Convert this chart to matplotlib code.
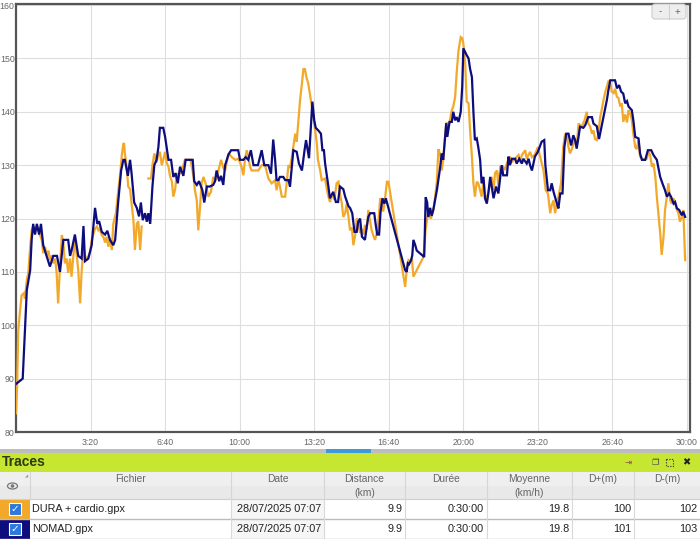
import numpy as np
import matplotlib
matplotlib.use("Agg")
import matplotlib.pyplot as plt
from matplotlib.patches import Rectangle, FancyBboxPatch, Ellipse, Circle

# ---------------- data ----------------
nomad_t = [0, 18, 24, 29, 38, 42, 46, 51, 56, 62, 67, 73, 82, 91, 100, 110, 118, 127, 140, 145, 149, 158, 167, 176, 181, 185, 194, 203, 212, 218, 223, 230, 239, 245, 252, 261, 266, 274, 282, 288, 292, 300, 306, 310, 317, 324, 330, 335, 340, 346, 351, 355, 360, 366, 371, 377, 382, 386, 395, 400, 404, 409, 416, 422, 428, 434, 440, 449, 455, 467, 474, 478, 485, 491, 500, 505, 512, 520, 529, 534, 538, 545, 550, 556, 561, 570, 577, 583, 596, 601, 610, 616, 623, 630, 637, 649, 659, 666, 677, 684, 690, 695, 699, 704, 708, 717, 722, 731, 735, 740, 744, 753, 759, 767, 774, 778, 786, 791, 795, 800, 804, 811, 818, 822, 826, 829, 838, 842, 851, 858, 864, 869, 878, 883, 892, 896, 902, 908, 914, 918, 923, 928, 932, 936, 941, 945, 950, 961, 965, 969, 974, 978, 983, 988, 992, 1044, 1048, 1051, 1054, 1060, 1063, 1066, 1071, 1075, 1095, 1099, 1103, 1106, 1111, 1115, 1119, 1129, 1138, 1142, 1146, 1154, 1157, 1163, 1169, 1173, 1178, 1182, 1187, 1193, 1197, 1200, 1205, 1209, 1214, 1218, 1223, 1227, 1231, 1236, 1240, 1245, 1249, 1254, 1258, 1263, 1267, 1272, 1276, 1281, 1288, 1294, 1299, 1303, 1307, 1317, 1321, 1325, 1330, 1339, 1343, 1350, 1357, 1361, 1370, 1375, 1379, 1384, 1392, 1400, 1410, 1417, 1420, 1427, 1433, 1437, 1442, 1446, 1451, 1455, 1460, 1466, 1471, 1476, 1482, 1489, 1495, 1500, 1504, 1509, 1513, 1522, 1527, 1535, 1545, 1549, 1558, 1564, 1570, 1576, 1580, 1585, 1589, 1594, 1607, 1612, 1618, 1623, 1629, 1634, 1639, 1643, 1652, 1656, 1661, 1670, 1674, 1679, 1688, 1695, 1704, 1710, 1719, 1728, 1734, 1741, 1746, 1752, 1757, 1764, 1768, 1773, 1779, 1786, 1790, 1795]
nomad_hr = [89, 90, 99, 106.6, 110.3, 116, 119, 117, 119, 117, 119, 115, 113, 111, 113, 113, 110, 116, 116, 113, 114, 117, 113, 112.5, 118.6, 112, 112.5, 115, 122, 119, 119.5, 117.5, 117, 117.7, 116, 115, 116, 123, 129, 131, 131, 128, 131, 128.5, 123, 122, 120.4, 123, 119.7, 121, 119.4, 121, 119, 126, 130, 131, 133.4, 137, 137, 135.3, 133.4, 131, 131, 127.8, 128.5, 126.6, 129.7, 128, 131, 131, 131, 127, 126.3, 127, 125.3, 123, 126, 126, 126.3, 127, 129, 127, 128, 126.3, 130, 132, 132.8, 132.8, 132.8, 131, 131, 131.5, 131, 132.8, 130, 130, 132.8, 130, 130, 128.4, 134.8, 131, 127.2, 127.2, 127.8, 127.8, 127.2, 127.2, 126, 129.7, 132.8, 132.5, 130.3, 129, 132.8, 134.7, 131.3, 137, 141.9, 138.4, 137, 136.5, 135.9, 132.8, 132.8, 130.4, 126, 123.8, 125, 123.1, 123.1, 126, 125.5, 124.1, 122.3, 122, 121, 117.5, 117.5, 119.4, 120, 116.6, 116.3, 116, 118.5, 120.3, 121, 121, 118.8, 117, 117, 121.3, 123.8, 122.8, 123.8, 110.3, 110, 111.6, 111.4, 112.2, 113.1, 116, 115, 114, 112.8, 124, 123, 120.3, 122, 120.5, 121.5, 125.3, 129.7, 132.2, 131, 137.8, 135.3, 138.1, 138.1, 140, 138.4, 139, 138.1, 140, 144.7, 151.9, 151.2, 150.6, 150, 148.1, 146.5, 140, 134.7, 135, 133.4, 131, 126.6, 127.8, 123.8, 122.8, 124.7, 127.8, 126, 123.8, 126, 124.7, 127.8, 130, 128.1, 128.1, 131.6, 130, 131.2, 131.2, 130.3, 131.2, 130.3, 131.2, 130.3, 131.2, 130, 129, 131.6, 132.5, 134.4, 134.7, 130, 125.3, 125.3, 126.6, 125, 124, 122.8, 121.9, 124.7, 124.7, 133.4, 135.9, 135.9, 133.7, 135.6, 134.7, 133.1, 135.3, 137.2, 137, 137.5, 139, 139, 137.8, 137.3, 134.9, 137, 139, 140.6, 142.2, 144, 145.9, 145.9, 144.4, 145, 143.8, 143.4, 141.6, 142, 141, 140.3, 138.4, 135.3, 135, 132.2, 131, 131, 132.8, 132.8, 131.9, 131, 127.8, 126.6, 125.3, 124.1, 124.7, 124.1, 122.8, 123.1, 121.9, 121.6, 120.6, 121.3, 120.3]

dura_t = [0, 3, 6, 11, 15, 21, 24, 29, 33, 38, 42, 46, 51, 56, 60, 64, 69, 73, 78, 82, 87, 91, 96, 100, 105, 109, 113, 118, 123, 127, 131, 136, 140, 145, 149, 154, 158, 163, 167, 172, 176, 181, 185, 190, 199, 203, 212, 217, 221, 225, 230, 234, 239, 243, 248, 252, 257, 261, 268, 274, 279, 284, 288, 290, 292, 297, 301, 306, 310, 315, 319, 324, 328, 333, 337, 346, 355, 362, 366, 371, 377, 382, 386, 391, 395, 400, 404, 409, 413, 418, 422, 427, 431, 435, 440, 449, 453, 468, 476, 480, 485, 489, 494, 498, 503, 509, 516, 523, 529, 534, 543, 550, 556, 561, 570, 579, 588, 596, 601, 605, 610, 614, 619, 623, 628, 632, 641, 650, 659, 668, 677, 686, 695, 699, 704, 708, 713, 722, 726, 731, 735, 740, 744, 749, 753, 757, 762, 767, 771, 775, 779, 784, 791, 798, 807, 810, 816, 820, 829, 836, 842, 849, 854, 860, 865, 869, 874, 878, 883, 887, 892, 896, 901, 905, 910, 914, 918, 923, 928, 932, 936, 941, 945, 950, 954, 959, 963, 968, 972, 977, 981, 985, 990, 995, 999, 1044, 1048, 1053, 1057, 1062, 1066, 1093, 1099, 1105, 1113, 1121, 1129, 1133, 1138, 1142, 1146, 1154, 1163, 1169, 1173, 1178, 1182, 1187, 1193, 1197, 1200, 1205, 1209, 1214, 1218, 1223, 1227, 1231, 1236, 1240, 1245, 1249, 1254, 1258, 1263, 1272, 1276, 1281, 1285, 1290, 1294, 1299, 1307, 1312, 1318, 1325, 1330, 1339, 1348, 1352, 1357, 1366, 1370, 1379, 1384, 1392, 1400, 1406, 1415, 1421, 1427, 1433, 1437, 1442, 1446, 1451, 1455, 1462, 1468, 1473, 1478, 1482, 1486, 1491, 1498, 1504, 1509, 1513, 1518, 1525, 1531, 1535, 1540, 1545, 1549, 1553, 1558, 1562, 1567, 1571, 1576, 1580, 1585, 1589, 1594, 1598, 1603, 1607, 1612, 1616, 1621, 1625, 1629, 1634, 1639, 1643, 1647, 1652, 1656, 1661, 1665, 1670, 1674, 1683, 1692, 1697, 1701, 1706, 1710, 1715, 1719, 1724, 1728, 1732, 1737, 1741, 1746, 1750, 1755, 1759, 1764, 1768, 1773, 1777, 1781, 1786, 1790, 1795]
dura_hr = [83.5, 88.5, 99, 102.8, 105.6, 106, 105, 108.5, 109.8, 114.7, 117.8, 118.5, 117.5, 118.5, 118, 116.9, 116, 113.5, 114.7, 113.1, 114, 112.2, 113.1, 111.6, 112.5, 109.8, 104.1, 111, 116.9, 115.5, 111.6, 112.5, 109.8, 112.5, 109.1, 113.1, 116.3, 113.1, 110.3, 104.1, 110, 114.7, 113.1, 112.2, 113.8, 116, 118.1, 118.5, 117.8, 118.1, 116.9, 116.6, 115.5, 116.6, 114.7, 116.3, 114.1, 119, 121, 125, 128, 132, 134, 134, 132.2, 129.7, 126, 125.5, 122.8, 119.7, 114.1, 119, 119.5, 114.1, 118.5, np.nan, 127.5, 127.5, 130, 132.2, 130.5, 132, 132.5, 130, 131, 132.5, 130.5, 129.7, 128, 127, 124.1, 125.5, 128.5, 128, 128.5, 130, 131, 131, 128, 125.3, 123.4, 117.8, 122.5, 126.6, 127.8, 126.5, 124.1, 125, 127.8, 127, 129, 131, 129.5, 129, 132.2, 131.5, 131, 131.2, 130.5, 129.7, 128.1, 131, 132.8, 131.5, 129.7, 129, 129, 129, 130, 130, 127.5, 126.6, 127.2, 125.3, 127.2, 126, 124.1, 124.1, 126.6, 130, 129.5, 131.5, 133.4, 135.9, 134.4, 137.8, 142.2, 145.3, 148, 148, 146.5, 145.3, 142.2, 139, 134, 131, 129, 127.2, 127.5, 124.7, 123.1, 124.7, 123.5, 126.6, 126.9, 124.7, 122.8, 120.3, 121, 122.8, 120.3, 117.8, 118.3, 115, 116.9, 120, 119, 117.3, 118, 117, 118.8, 118, 121.6, 119.5, 117.8, 116.7, 116, 117.3, 119.4, 123.8, 122.8, 121.3, 123.8, 126.9, 126.9, 107.2, 110.3, 112.2, 112, 112.5, 109.1, 112.8, 118, 121, 120, 122, 127, 133, 132, 129, 131, 137.8, 138, 140.3, 141, 142.8, 147.2, 151.5, 154, 153.8, 152.8, 149, 141.9, 141.6, 136.6, 131.6, 126.6, 124.1, 126.9, 126.6, 125.3, 124.1, 127.2, 124.7, 123.4, 126.6, 127.8, 125.3, 128.5, 129, 126, 129.7, 129.7, 129.1, 130.6, 131.6, 130.6, 131.2, 131.9, 130.6, 131.9, 132.8, 131.2, 132.5, 131.5, 132, 133.4, 131.6, 129, 125.3, 124.7, 121, 122.5, 123.4, 121, 122.8, 124.1, 126.6, 133.4, 135.9, 135.3, 133.4, 132.2, 133, 134.7, 133.4, 137.8, 137.5, 137.3, 138.4, 140, 137.8, 137.3, 135.9, 136.5, 134.9, 134.7, 135.9, 139, 140.3, 142.2, 143.5, 144.7, 145.7, 145.5, 143.8, 143.5, 144.3, 142.8, 142.6, 141, 141.6, 138.1, 139.5, 138, 140.3, 139.8, 138.4, 135.9, 133.4, 133, 134.7, 131.6, 131, 131.2, 132.5, 131.9, 129.7, 130.3, 127.8, 124.1, 120.3, 117.3, 113.2, 116.6, 121.6, 124.1, 126.6, 123.4, 122.8, 123.8, 122.8, 121.6, 121, 119.4, 120.3, 121.6, 112.2]

x_ticks = [200, 400, 600, 800, 1000, 1200, 1400, 1600, 1800]
x_tick_labels = ["3:20", "6:40", "10:00", "13:20", "16:40", "20:00", "23:20", "26:40", "30:00"]
y_ticks = [80, 90, 100, 110, 120, 130, 140, 150, 160]

panel_title = "Traces"
headers = ["", "Fichier", "Date", "Distance\n(km)", "Durée", "Moyenne\n(km/h)", "D+(m)", "D-(m)"]
files = ["DURA + cardio.gpx", "NOMAD.gpx"]
dates = ["28/07/2025 07:07", "28/07/2025 07:07"]
distances = ["9.9", "9.9"]
durations = ["0:30:00", "0:30:00"]
averages = ["19.8", "19.8"]
d_plus = ["100", "101"]
d_minus = ["102", "103"]

ORANGE = "#f2a92a"
NAVY = "#0d0d7d"
row_colors = [ORANGE, NAVY]

plt.rcParams["font.family"] = ["Liberation Sans", "DejaVu Sans"]

W, H = 700, 539
fig = plt.figure(figsize=(W / 100, H / 100), dpi=100)
fig.patch.set_facecolor("white")

# ---------------- chart ----------------
ax = fig.add_axes([16 / W, 1 - 432 / H, (690 - 16) / W, (432 - 4) / H], zorder=1)
ax.plot(dura_t, dura_hr, color=ORANGE, lw=1.6, solid_joinstyle="miter", zorder=3)
ax.plot(nomad_t, nomad_hr, color=NAVY, lw=1.6, solid_joinstyle="miter", zorder=4)
ax.set_xlim(0, 1808)
ax.set_ylim(80, 160.2)
ax.set_xticks(x_ticks)
ax.set_xticklabels(x_tick_labels)
ax.set_yticks(y_ticks)
ax.set_yticklabels([str(v) for v in y_ticks])
ax.grid(True, color="#dedede", lw=0.8)
ax.set_axisbelow(True)
ax.tick_params(axis="both", length=0, labelsize=6.3, labelcolor="#666666")
ax.tick_params(axis="x", pad=4.5)
ax.tick_params(axis="y", pad=1)
for s in ax.spines.values():
    s.set_color("#555555")
    s.set_linewidth(1.6)

# ---------------- overlay (pixel coords) ----------------
ov = fig.add_axes([0, 0, 1, 1], zorder=5)
ov.set_xlim(0, W)
ov.set_ylim(H, 0)
ov.axis("off")
ov.patch.set_alpha(0)

# zoom buttons
ov.add_patch(FancyBboxPatch((652, 4), 34, 15, boxstyle="round,pad=0,rounding_size=3",
                            fc="#eeeeee", ec="#cccccc", lw=0.8))
ov.plot([669, 669], [4, 19], color="#d0d0d0", lw=0.8)
ov.text(660.5, 11.5, "-", ha="center", va="center", fontsize=7, color="#666666")
ov.text(677.5, 11.5, "+", ha="center", va="center", fontsize=7, color="#666666")

# scrollbar
ov.add_patch(Rectangle((0, 449), W, 4, fc="#bdbdbd", ec="none"))
ov.add_patch(Rectangle((326, 449), 45, 4, fc="#3e9ad8", ec="none"))

# green title band
ov.add_patch(Rectangle((0, 453), W, 19, fc="#c6e631", ec="none"))
ov.text(2, 462.5, panel_title, ha="left", va="center", fontsize=10, fontweight="bold", color="#2e3a10")
ov.text(628, 462.5, "⇥", ha="center", va="center", fontsize=6, color="#884444", family="DejaVu Sans")
ov.text(655, 462.5, "❐", ha="center", va="center", fontsize=6, color="#444444", family="DejaVu Sans")
# expand icon drawn as a small dotted square
ov.add_patch(Rectangle((666, 459), 6.5, 6.5, fc="none", ec="#444444", lw=0.8, ls=(0, (1.2, 1.2))))
ov.text(686, 462.5, "✖", ha="center", va="center", fontsize=7, color="#222222", family="DejaVu Sans")

# table
col_edges = [0, 30, 231, 324, 405, 487, 572, 634, 700]
header_top, header_bot = 472, 499
row_h = 20

ov.add_patch(Rectangle((0, header_top), W, header_bot - header_top, fc="#efefef", ec="none"))
ov.add_patch(Rectangle((0, header_top + 14), W, header_bot - header_top - 14, fc="#e9e9e9", ec="none"))
for xe in col_edges[1:-1]:
    ov.plot([xe, xe], [header_top, header_bot], color="#d6d6d6", lw=0.8)
ov.plot([0, W], [header_bot, header_bot], color="#cfcfcf", lw=0.8)

for i, h in enumerate(headers):
    if not h:
        continue
    cx = (col_edges[i] + col_edges[i + 1]) / 2
    lines = h.split("\n")
    for j, ln in enumerate(lines):
        ov.text(cx, 479.5 + j * 13, ln, ha="center", va="center", fontsize=7.4, color="#666666")

# eye icon
ov.add_patch(Ellipse((12.5, 486), 10, 6, fc="none", ec="#777777", lw=0.9))
ov.add_patch(Circle((12.5, 486), 1.8, fc="#777777", ec="none"))
ov.text(26.5, 476, "◢", ha="center", va="center", fontsize=3, color="#999999", family="DejaVu Sans")

for r in range(len(files)):
    y0 = header_bot + r * row_h
    yc = y0 + row_h / 2
    ov.add_patch(Rectangle((0, y0), 30, row_h, fc=row_colors[r], ec="none"))
    ov.add_patch(Rectangle((col_edges[2], y0), col_edges[3] - col_edges[2], row_h, fc="#f6f6f6", ec="none"))
    ov.add_patch(Rectangle((9, yc - 6), 12, 12, fc="#2c78dc", ec="white", lw=0.8))
    ov.text(15, yc, "✓", ha="center", va="center", fontsize=7.5, color="white",
            fontweight="bold", family="DejaVu Sans")
    ov.text(32, yc, files[r], ha="left", va="center", fontsize=7.8, color="#222222")
    vals = [dates[r], distances[r], durations[r], averages[r], d_plus[r], d_minus[r]]
    for k, v in enumerate(vals):
        ov.text(col_edges[k + 3] - 3, yc, v, ha="right", va="center", fontsize=7.8, color="#222222")
    for xe in col_edges[2:-1]:
        ov.plot([xe, xe], [y0, y0 + row_h], color="#d9d9d9", lw=0.8)
    ov.plot([0, W], [y0 + row_h, y0 + row_h], color="#bbbbbb", lw=1.0)

fig.savefig("out.png", dpi=100, facecolor="white")
